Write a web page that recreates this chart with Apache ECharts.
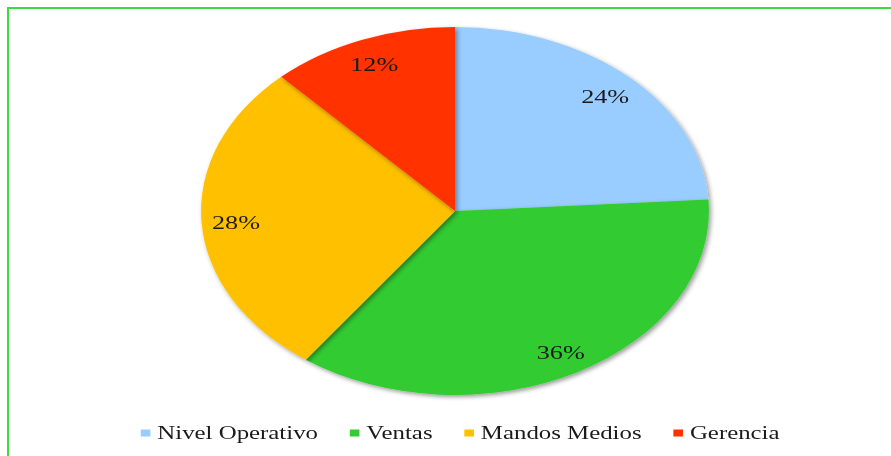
<!DOCTYPE html>
<html>
<head>
<meta charset="utf-8">
<script src="https://cdn.jsdelivr.net/npm/echarts@6/dist/echarts.min.js"></script>
<style>
  html, body { margin: 0; padding: 0; background: #fff; overflow: hidden; }
  #frame { position: absolute; left: 7px; top: 7px; width: 1000px; height: 600px;
           border-left: 2px solid #3edc3e; border-top: 2px solid #3edc3e; box-sizing: border-box; }
  #chart { position: absolute; left: 0; top: 0; width: 645.65px; height: 456px;
           transform: scaleX(1.38); transform-origin: 0 0; }
</style>
</head>
<body>
<div id="frame"></div>
<div id="chart"></div>
<script>
const categories = ['Nivel Operativo', 'Ventas', 'Mandos Medios', 'Gerencia'];
const values = [24, 36, 28, 12];
const colors = ['#99CCFF', '#33CC33', '#FFC000', '#FF3300'];

const serifFont = "'Liberation Serif', 'Times New Roman', 'DejaVu Serif', serif";
const chart = echarts.init(document.getElementById('chart'), null, { renderer: 'svg' });
const pieData = categories.map((name, i) => ({ name: name, value: values[i], itemStyle: { color: colors[i] } }));
const labelData = categories.map((name, i) => ({ name: name, value: values[i] }));

chart.setOption({
  animation: false,
  backgroundColor: 'transparent',
  textStyle: { fontFamily: serifFont },
  legend: {
    data: categories,
    left: 97,
    top: 419,
    itemWidth: 7,
    itemHeight: 7,
    itemGap: 23,
    icon: 'rect',
    selectedMode: false,
    textStyle: { fontFamily: serifFont, fontSize: 18, color: '#1a1a1a' }
  },
  series: [
    {
      type: 'pie',
      center: [329.7, 211],
      radius: [0, 184],
      startAngle: 90,
      clockwise: true,
      silent: true,
      label: { show: false },
      labelLine: { show: false },
      itemStyle: {
        borderWidth: 0,
        shadowBlur: 4,
        shadowColor: 'rgba(0,0,0,0.4)',
        shadowOffsetX: 1.5,
        shadowOffsetY: 2
      },
      data: pieData
    },
    {
      type: 'pie',
      center: [329.7, 213],
      radius: [128, 184],
      startAngle: 90,
      clockwise: true,
      silent: true,
      itemStyle: { color: 'rgba(0,0,0,0)', borderWidth: 0 },
      label: {
        show: true,
        position: 'inside',
        formatter: '{c}%',
        fontFamily: serifFont,
        fontSize: 19,
        color: '#1a1a1a'
      },
      labelLine: { show: false },
      data: labelData
    }
  ]
});
</script>
</body>
</html>
